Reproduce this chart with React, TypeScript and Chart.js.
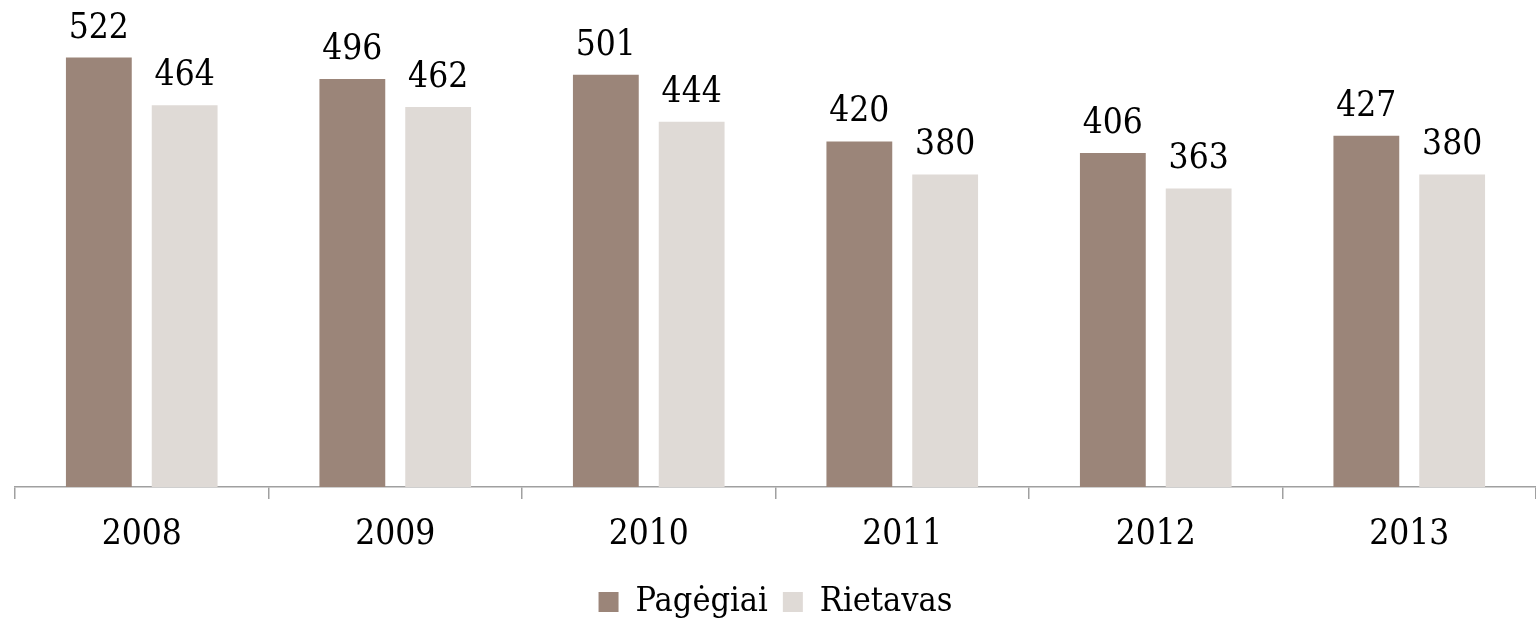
import React, { useEffect, useRef } from "react";
import { Chart, registerables } from "chart.js";

Chart.register(...registerables);

const categories = ["2008", "2009", "2010", "2011", "2012", "2013"];
const pagegiai = [522, 496, 501, 420, 406, 427];
const rietavas = [464, 462, 444, 380, 363, 380];
const seriesNames = ["Pagėgiai", "Rietavas"];
const seriesColors = ["#9B8579", "#DFDAD6"];

const FONT = "'DejaVu Serif Condensed', 'DejaVu Serif', serif";

const valueLabels = {
  id: "valueLabels",
  afterDatasetsDraw(chart: any) {
    const ctx = chart.ctx;
    ctx.save();
    ctx.font = `35px ${FONT}`;
    ctx.fillStyle = "#000";
    ctx.textAlign = "center";
    ctx.textBaseline = "alphabetic";
    chart.data.datasets.forEach((ds: any, i: number) => {
      const meta = chart.getDatasetMeta(i);
      meta.data.forEach((el: any, j: number) => {
        ctx.fillText(String(ds.data[j]), el.x, el.y - 20);
      });
    });
    ctx.restore();
  },
};

export default function App() {
  const ref = useRef<HTMLCanvasElement>(null);
  useEffect(() => {
    const chart = new Chart(ref.current!, {
      type: "bar",
      data: {
        labels: categories,
        datasets: [
          { label: seriesNames[0], data: pagegiai, backgroundColor: seriesColors[0] },
          { label: seriesNames[1], data: rietavas, backgroundColor: seriesColors[1] },
        ],
      },
      options: {
        animation: false,
        responsive: true,
        maintainAspectRatio: false,
        datasets: { bar: { categoryPercentage: 0.677, barPercentage: 0.767 } },
        layout: { padding: { left: 15, right: 0, top: 0, bottom: 0 } },
        scales: {
          x: {
            grid: { drawOnChartArea: false, drawTicks: true, tickLength: 12, color: "#A0A0A0", lineWidth: 1.5 },
            border: { display: true, color: "#A0A0A0", width: 1.5 },
            ticks: { color: "#000", font: { family: FONT, size: 35, lineHeight: 1.0 }, padding: 18 },
          },
          y: { display: false, min: 0, max: 592 },
        },
        plugins: {
          legend: {
            position: "bottom",
            labels: {
              boxWidth: 20,
              boxHeight: 20,
              color: "#000",
              font: { family: FONT, size: 34 },
              padding: 15,
            },
          },
          tooltip: { enabled: false },
        },
      },
      plugins: [valueLabels],
    });
    return () => chart.destroy();
  }, []);
  return (
    <div style={{ position: "fixed", left: 0, top: 0, width: 1536, height: 620, overflow: "hidden", background: "#fff" }}>
      <div style={{ position: "relative", width: 1536, height: 629 }}>
        <canvas ref={ref} />
      </div>
    </div>
  );
}
